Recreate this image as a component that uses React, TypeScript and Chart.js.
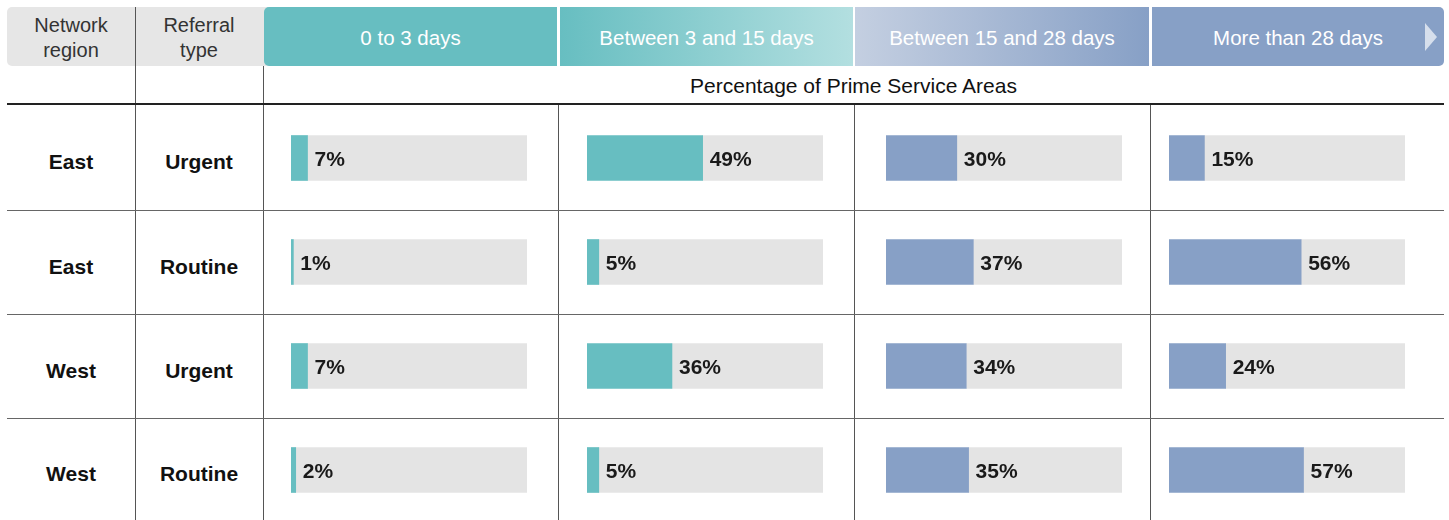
import React, { useEffect, useRef } from "react";
import { Chart, registerables } from "chart.js";

Chart.register(...registerables);

// ---- Data ----
const regions = ["East", "East", "West", "West"];
const referralTypes = ["Urgent", "Routine", "Urgent", "Routine"];
const rowKeys = ["East Urgent", "East Routine", "West Urgent", "West Routine"];
const waitBands = ["0 to 3 days", "Between 3 and 15 days", "Between 15 and 28 days", "More than 28 days"];
const pct0to3 = [7, 1, 7, 2];
const pct3to15 = [49, 5, 36, 5];
const pct15to28 = [30, 37, 34, 35];
const pctOver28 = [15, 56, 24, 57];
const axisMax = 100;
const subTitle = "Percentage of Prime Service Areas";

const FONT = "'Liberation Sans', Arial, Helvetica, sans-serif";
const TEAL = "#67BEC1";
const BLUE = "#87A0C6";
const TRACK = "#E4E4E4";

const columns = [
  { values: pct0to3, color: TEAL, left: 281 },
  { values: pct3to15, color: TEAL, left: 577 },
  { values: pct15to28, color: BLUE, left: 876 },
  { values: pctOver28, color: BLUE, left: 1159 },
];

const valueLabelPlugin = {
  id: "valueLabels",
  afterDatasetsDraw(chart: any) {
    const meta = chart.getDatasetMeta(0);
    const ctx = chart.ctx;
    ctx.save();
    ctx.font = `bold 21px ${FONT}`;
    ctx.fillStyle = "#1a1a1a";
    ctx.textBaseline = "middle";
    ctx.textAlign = "left";
    meta.data.forEach((el: any, i: number) => {
      const v = chart.data.datasets[0].data[i];
      ctx.fillText(`${v}%`, el.x + 7, el.y + 2);
    });
    ctx.restore();
  },
};

function BarColumn({ values, color, left }: { values: number[]; color: string; left: number }) {
  const ref = useRef<HTMLCanvasElement>(null);
  useEffect(() => {
    if (!ref.current) return;
    const chart = new Chart(ref.current, {
      type: "bar",
      data: {
        labels: rowKeys,
        datasets: [
          { data: values, backgroundColor: color, barThickness: 45, borderWidth: 0 },
          { data: values.map((v) => axisMax - v), backgroundColor: TRACK, barThickness: 45, borderWidth: 0 },
        ],
      },
      options: {
        indexAxis: "y",
        animation: false,
        responsive: false,
        maintainAspectRatio: false,
        layout: { padding: { left: 10, right: 10, top: 0, bottom: 0 } },
        plugins: { legend: { display: false }, tooltip: { enabled: false } },
        scales: {
          x: { stacked: true, min: 0, max: axisMax, display: false },
          y: { stacked: true, display: false },
        },
      },
      plugins: [valueLabelPlugin],
    });
    return () => chart.destroy();
  }, []);
  return (
    <canvas
      ref={ref}
      width={256}
      height={416}
      style={{ position: "absolute", left: left, top: 106, width: 256, height: 416 }}
    />
  );
}

export default function App() {
  const headerText: React.CSSProperties = {
    position: "absolute",
    top: 7,
    height: 59,
    paddingTop: 3,
    boxSizing: "border-box",
    display: "flex",
    alignItems: "center",
    justifyContent: "center",
    fontFamily: FONT,
    fontSize: 20.5,
    color: "#fff",
  };
  const rowTops = [104, 210, 314, 418, 520];
  const vline = (x: number, top: number, color = "#555"): React.CSSProperties => ({
    position: "absolute",
    left: x,
    top,
    width: 1,
    height: 520 - top,
    background: color,
  });
  const rowLabel = (left: number, i: number): React.CSSProperties => ({
    position: "absolute",
    left,
    width: 128,
    top: rowTops[i] + 5,
    height: rowTops[i + 1] - rowTops[i],
    display: "flex",
    alignItems: "center",
    justifyContent: "center",
    fontWeight: "bold",
    fontSize: 21,
    color: "#111",
  });
  return (
    <div
      style={{
        position: "fixed",
        left: 0,
        top: 0,
        width: 1449,
        height: 520,
        background: "#fff",
        overflow: "hidden",
        fontFamily: FONT,
      }}
    >
      {/* header gray box */}
      <div style={{ position: "absolute", left: 7, top: 7, width: 262, height: 59, background: "#E6E6E6", borderRadius: "5px 0 0 5px" }} />
      <div style={{ ...headerText, left: 7, width: 128, color: "#333", lineHeight: "25px", textAlign: "center", fontSize: 20 }}>
        Network<br />region
      </div>
      <div style={{ ...headerText, left: 135, width: 128, color: "#333", lineHeight: "25px", textAlign: "center", fontSize: 20 }}>
        Referral<br />type
      </div>
      {/* coloured band headers */}
      <div style={{ ...headerText, left: 264, width: 293, background: TEAL, borderRadius: "5px 0 0 5px" }}>{waitBands[0]}</div>
      <div style={{ ...headerText, left: 560, width: 293, background: `linear-gradient(to right, ${TEAL}, #B3DFE0)` }}>{waitBands[1]}</div>
      <div style={{ ...headerText, left: 855, width: 294, background: `linear-gradient(to right, #C4CFE1, ${BLUE})` }}>{waitBands[2]}</div>
      <div style={{ ...headerText, left: 1152, width: 292, background: BLUE, borderRadius: "0 5px 5px 0" }}>{waitBands[3]}</div>
      <div
        style={{
          position: "absolute",
          left: 1425,
          top: 23,
          width: 0,
          height: 0,
          borderTop: "14px solid transparent",
          borderBottom: "14px solid transparent",
          borderLeft: "12px solid #D6DFEC",
        }}
      />
      {/* sub title */}
      <div style={{ position: "absolute", left: 263, width: 1181, top: 74, textAlign: "center", fontSize: 21, color: "#111" }}>
        {subTitle}
      </div>
      {/* grid lines */}
      <div style={vline(135, 7)} />
      <div style={vline(263, 66)} />
      <div style={vline(558, 104)} />
      <div style={vline(854, 104)} />
      <div style={vline(1150, 104)} />
      <div style={{ position: "absolute", left: 7, top: 103, width: 1437, height: 2, background: "#222" }} />
      {[210, 314, 418].map((y) => (
        <div key={y} style={{ position: "absolute", left: 7, top: y, width: 1437, height: 1, background: "#666" }} />
      ))}
      {/* row labels */}
      {regions.map((r, i) => (
        <React.Fragment key={i}>
          <div style={rowLabel(7, i)}>{r}</div>
          <div style={rowLabel(135, i)}>{referralTypes[i]}</div>
        </React.Fragment>
      ))}
      {columns.map((c, i) => (
        <BarColumn key={i} values={c.values} color={c.color} left={c.left} />
      ))}
    </div>
  );
}
